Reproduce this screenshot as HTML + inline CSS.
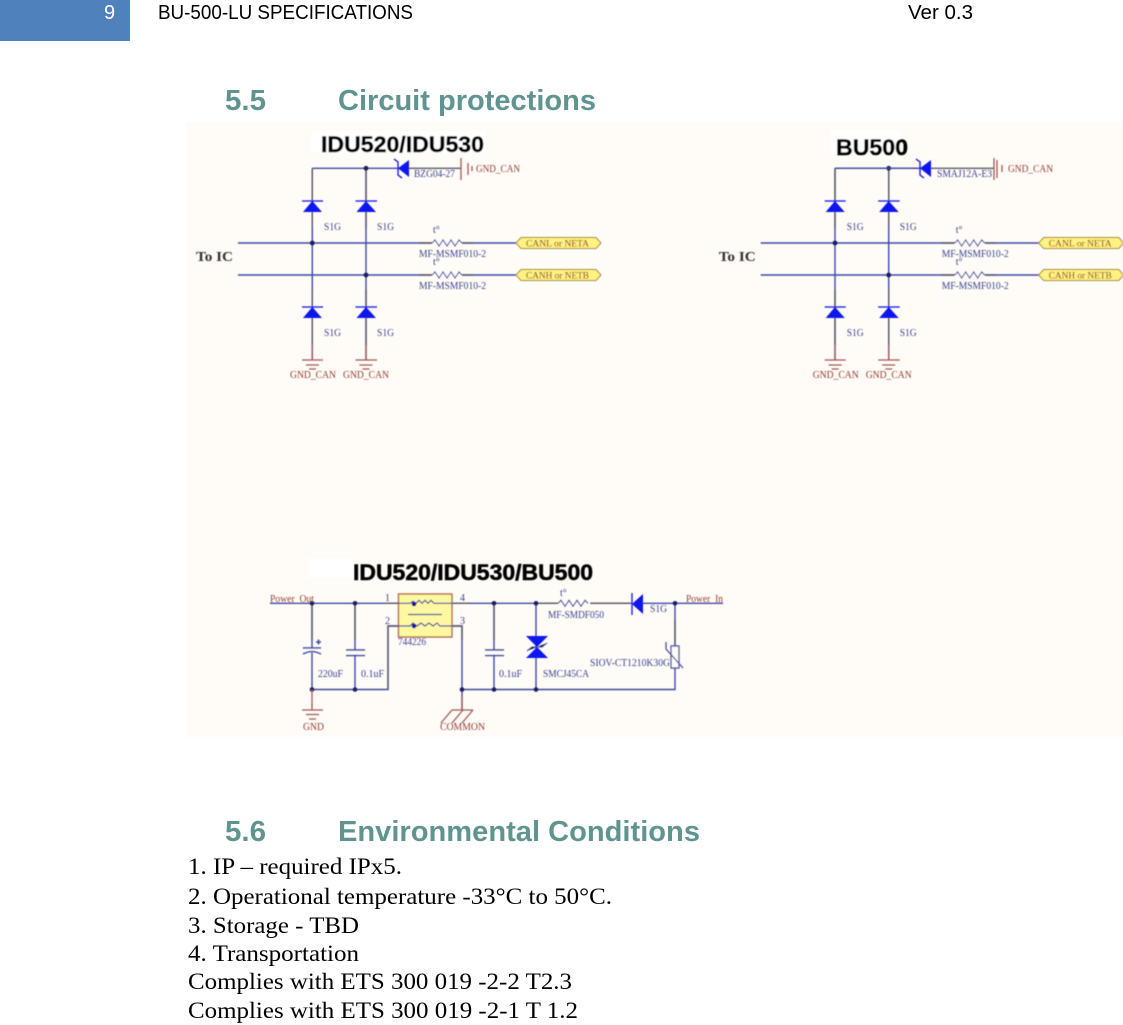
<!DOCTYPE html>
<html><head><meta charset="utf-8"><style>
html,body{margin:0;padding:0;background:#fff;width:1123px;height:1025px;overflow:hidden}
svg{display:block}
.l{font-family:"Liberation Serif",serif;font-size:10px;fill:#3a4390}
.r{font-family:"Liberation Serif",serif;font-size:10px;fill:#93403a}
.n{font-family:"Liberation Serif",serif;font-size:9.5px;fill:#7a2a18}
.t{font-family:"Liberation Sans",sans-serif;font-weight:bold;font-size:22px;fill:#000;stroke:#000;stroke-width:.5}
.ic{font-family:"Liberation Serif",serif;font-weight:bold;font-size:14px;fill:#333}
.h{font-family:"Liberation Sans",sans-serif;font-weight:bold;font-size:29px;fill:#5f9490}
.b{font-family:"Liberation Serif",serif;font-size:23.5px;fill:#000}
.c{font-family:"Liberation Sans",sans-serif;font-size:20px;fill:#000}
.w{stroke:#3d4aa6;stroke-width:1.4;fill:none}
.g{stroke:#5c5c68;stroke-width:1.4;fill:none}
.e{stroke:#a05a55;stroke-width:1.3;fill:none}
</style></head><body>
<svg width="1123" height="1025" viewBox="0 0 1123 1025" xmlns="http://www.w3.org/2000/svg">
<defs>
<filter id="bl" x="-5%" y="-5%" width="110%" height="110%"><feGaussianBlur stdDeviation="0.5"/></filter>
<g id="can">
  <path class="w" d="M312.3 168.3H398M312.3 168.3V360M366 168.3V360M238 243H516M238 275H516"/>
  <path class="g" d="M312.3 168.3V201M366 168.3V201M312.3 212V228M366 212V228M312.3 290V307M366 290V307M312.3 318V345M366 318V345M419 243H432M462 243H473M419 275H432M462 275H473"/>
  <path fill="#0a14f0" d="M303 212L312.3 201L322 212ZM356.5 212L366 201L376 212ZM303 318L312.3 307L322 318ZM356.5 318L366 307L376 318Z"/>
  <path stroke="#0a14f0" stroke-width="1.2" d="M302 201H323M355.5 201H377M302 307H323M355.5 307H377"/>
  <circle cx="366" cy="168.3" r="2.4" fill="#1a1a60"/><circle cx="312.3" cy="243" r="2.4" fill="#1a1a60"/><circle cx="366" cy="275" r="2.4" fill="#1a1a60"/>
  <path fill="#fffbf6" d="M432 240h30v6h-30zM432 272h30v6h-30z"/>
  <path stroke="#3d4aa6" stroke-width="1.1" fill="none" d="M432 243l3-3 4 6 4-6 4 6 4-6 4 6 4-6 3 3M432 275l3-3 4 6 4-6 4 6 4-6 4 6 4-6 3 3"/>
  <path class="e" d="M312.3 345V360M366 345V360M302 360H323M355.5 360H377M306 365H319M359.5 365H372.5M309 369H316M362.5 369H369.5"/>
  <g fill="#fff280" stroke="#a8864a" stroke-width="1"><path d="M516 243l5-5.500h75l5 5.500-5 5.500h-75z"/><path d="M516 275l5-5.500h75l5 5.500-5 5.500h-75z"/></g>
  <text class="n" x="526" y="246.500" textLength="63" lengthAdjust="spacingAndGlyphs">CANL or NETA</text>
  <text class="n" x="526" y="278.500" textLength="63" lengthAdjust="spacingAndGlyphs">CANH or NETB</text>
  <text class="l" x="324" y="230" textLength="17" lengthAdjust="spacingAndGlyphs">S1G</text>
  <text class="l" x="377" y="230" textLength="17" lengthAdjust="spacingAndGlyphs">S1G</text>
  <text class="l" x="324" y="336" textLength="17" lengthAdjust="spacingAndGlyphs">S1G</text>
  <text class="l" x="377" y="336" textLength="17" lengthAdjust="spacingAndGlyphs">S1G</text>
  <text class="l" x="419" y="257" textLength="67" lengthAdjust="spacingAndGlyphs">MF-MSMF010-2</text>
  <text class="l" x="419" y="289" textLength="67" lengthAdjust="spacingAndGlyphs">MF-MSMF010-2</text>
  <text class="l" x="433" y="233" font-size="11">t°</text>
  <text class="l" x="433" y="265" font-size="11">t°</text>
  <text class="ic" x="196" y="261" textLength="37" lengthAdjust="spacingAndGlyphs">To IC</text>
  <text class="r" x="290" y="378" textLength="46" lengthAdjust="spacingAndGlyphs">GND_CAN</text>
  <text class="r" x="343" y="378" textLength="46" lengthAdjust="spacingAndGlyphs">GND_CAN</text>
</g>
</defs>

<rect x="0" y="0" width="130" height="41" fill="#4f81bd"/>
<text class="c" x="104" y="19" style="fill:#fff">9</text>
<text class="c" x="158" y="19" textLength="255" lengthAdjust="spacingAndGlyphs">BU-500-LU SPECIFICATIONS</text>
<text class="c" x="908" y="19" textLength="65" lengthAdjust="spacingAndGlyphs">Ver 0.3</text>

<text class="h" x="225" y="110" textLength="41" lengthAdjust="spacingAndGlyphs">5.5</text>
<text class="h" x="338" y="110" textLength="258" lengthAdjust="spacingAndGlyphs">Circuit protections</text>

<rect x="186" y="122" width="937" height="615" fill="#fffbf6"/>
<g filter="url(#bl)">
  <rect x="311" y="131" width="175" height="22" fill="#fff"/>
  <rect x="830" y="130" width="70" height="24" fill="#fff"/>
  <rect x="307" y="558" width="46" height="20" fill="#fff"/>
  <text class="t" x="321" y="152" textLength="163" lengthAdjust="spacingAndGlyphs">IDU520/IDU530</text>
  <text class="t" x="836" y="155" textLength="72" lengthAdjust="spacingAndGlyphs">BU500</text>
  <text class="t" x="353" y="580" textLength="240" lengthAdjust="spacingAndGlyphs">IDU520/IDU530/BU500</text>

  <use href="#can"/>
  <use href="#can" transform="translate(522.700 0)"/>

  <!-- left TVS -->
  <path class="g" d="M409 168.300H461"/>
  <path fill="#0a14f0" d="M398 168.300L409 160V177Z"/>
  <path stroke="#0a14f0" stroke-width="1.3" fill="none" d="M394 159L398 162V175L402 178"/>
  <path stroke="#a05a55" stroke-width="1.3" d="M461 158V180M468 163V175M472 166V171"/>
  <text class="l" x="414" y="177" textLength="41" lengthAdjust="spacingAndGlyphs">BZG04-27</text>
  <text class="r" x="476" y="172" textLength="44" lengthAdjust="spacingAndGlyphs">GND_CAN</text>

  <!-- right TVS -->
  <path class="w" d="M835 168.300H920"/>
  <path class="g" d="M931 168.300H994"/>
  <path fill="#0a14f0" d="M920 168.300L931 160V177Z"/>
  <path stroke="#0a14f0" stroke-width="1.3" fill="none" d="M916 159L920 162V175L924 178"/>
  <path stroke="#a05a55" stroke-width="1.3" d="M994 158V180M997 160V178M1002 165V172"/>
  <text class="l" x="937" y="177" textLength="55" lengthAdjust="spacingAndGlyphs">SMAJ12A-E3</text>
  <text class="r" x="1008" y="172" textLength="45" lengthAdjust="spacingAndGlyphs">GND_CAN</text>

  <!-- power circuit -->
  <path class="w" d="M270 603.300H398M452 603.300H632M643 603.300H723M312 603.300V689.500M355 603.300V689.500M312 689.500H388V626H398M452 626H462V710M462 689.500H675V603.300M494 603.300V689.500M536 603.300V689.500"/>
  <path class="g" d="M388 689.500V626H398M452 626H462V640M312 603.300V640M355 603.300V640M494 603.300V640M675 620V646M538 603.300H558M590 603.300H632M385 603.300H398M452 603.300H470"/>
  <rect x="398.500" y="594" width="53.500" height="43" fill="#fff8a0" stroke="#b06a50" stroke-width="1.400"/>
  <path stroke="#3d4aa6" stroke-width="1.200" fill="none" d="M398 603.300H410l3-2 3 2 3-3 3 3 3-3 3 3 3-3 3 3H452M398 626H410l3-3 4 3 4-3 4 3 4-3 4 3 4-3 3 3H452M408 614.500H442"/>
  <circle cx="414" cy="604" r="2.300" fill="#0a14a0"/><circle cx="414" cy="626" r="2.300" fill="#0a14a0"/>
  <g fill="#1a1a60">
    <circle cx="312" cy="603.300" r="2.300"/><circle cx="355" cy="603.300" r="2.300"/><circle cx="494" cy="603.300" r="2.300"/><circle cx="536" cy="603.300" r="2.300"/><circle cx="675" cy="603.300" r="2.300"/>
    <circle cx="312" cy="689.500" r="2.300"/><circle cx="355" cy="689.500" r="2.300"/><circle cx="462" cy="689.500" r="2.300"/><circle cx="494" cy="689.500" r="2.300"/><circle cx="536" cy="689.500" r="2.300"/>
  </g>
  <!-- caps -->
  <path fill="#fffbf6" d="M305 648.500h15v4h-15zM346 650.500h19v4h-19zM485 650.500h19v4h-19zM558 600h32v7h-32zM670 646h10v22h-10z"/>
  <path stroke="#3d4aa6" stroke-width="1.500" fill="none" d="M303 648H321M303 654Q312 649 321 654M346 650H365M346 655.500H365M485 650H504M485 655.500H504M316 642H321M318.500 639.500V644.500"/>
  <!-- resistor -->
  <path stroke="#3d4aa6" stroke-width="1.200" fill="none" d="M558 603.300l3-3 4 6 4-6 4 6 4-6 4 6 4-6 3 3"/>
  <!-- TVS bidirectional -->
  <path fill="#0a14f0" d="M526 636H548L537 647ZM526 658H548L537 647Z"/>
  <path stroke="#3d4aa6" stroke-width="1.100" d="M527 651L532 647H542L547 643"/>
  <!-- diode -->
  <path fill="#0a14f0" d="M632 604L643 594V614Z"/>
  <path stroke="#0a14f0" stroke-width="1.300" d="M632 593V615"/>
  <!-- varistor -->
  <rect x="671" y="646" width="8" height="22" fill="#fffbf6" stroke="#3d4aa6" stroke-width="1.300"/>
  <path stroke="#3d4aa6" stroke-width="1.200" fill="none" d="M666 642V649L683 668"/>
  <!-- grounds -->
  <path class="e" d="M312 689.500V710M302 710H323M306 714.500H319M309 719H316M462 696V710"/>
  <path stroke="#a05a55" stroke-width="1.300" fill="none" d="M452 710H473M452 710L441 723M463 710L452 723M473 710L462 723"/>
  <text class="r" x="270" y="602" textLength="44" lengthAdjust="spacingAndGlyphs">Power_Out</text>
  <text class="r" x="686" y="602" textLength="37" lengthAdjust="spacingAndGlyphs">Power_In</text>
  <text class="r" x="303" y="730" textLength="21" lengthAdjust="spacingAndGlyphs">GND</text>
  <text class="r" x="440" y="730" textLength="45" lengthAdjust="spacingAndGlyphs">COMMON</text>
  <text class="l" x="385" y="601">1</text><text class="l" x="460" y="601">4</text><text class="l" x="385" y="624">2</text><text class="l" x="460" y="624">3</text>
  <text class="l" x="398" y="645" textLength="28" lengthAdjust="spacingAndGlyphs">744226</text>
  <text class="l" x="318" y="677" textLength="25" lengthAdjust="spacingAndGlyphs">220uF</text>
  <text class="l" x="361" y="677" textLength="23" lengthAdjust="spacingAndGlyphs">0.1uF</text>
  <text class="l" x="499" y="677" textLength="23" lengthAdjust="spacingAndGlyphs">0.1uF</text>
  <text class="l" x="543" y="677" textLength="46" lengthAdjust="spacingAndGlyphs">SMCJ45CA</text>
  <text class="l" x="590" y="666" textLength="80" lengthAdjust="spacingAndGlyphs">SIOV-CT1210K30G</text>
  <text class="l" x="548" y="618" textLength="56" lengthAdjust="spacingAndGlyphs">MF-SMDF050</text>
  <text class="l" x="560" y="596" font-size="11">t°</text>
  <text class="l" x="650" y="612" textLength="17" lengthAdjust="spacingAndGlyphs">S1G</text>
</g>

<text class="h" x="225" y="841" textLength="41" lengthAdjust="spacingAndGlyphs">5.6</text>
<text class="h" x="338" y="841" textLength="362" lengthAdjust="spacingAndGlyphs">Environmental Conditions</text>

<text class="b" x="188" y="874" textLength="214" lengthAdjust="spacingAndGlyphs">1. IP – required IPx5.</text>
<text class="b" x="188" y="904" textLength="424" lengthAdjust="spacingAndGlyphs">2. Operational temperature -33°C to 50°C.</text>
<text class="b" x="188" y="933" textLength="171" lengthAdjust="spacingAndGlyphs">3. Storage - TBD</text>
<text class="b" x="188" y="961" textLength="171" lengthAdjust="spacingAndGlyphs">4. Transportation</text>
<text class="b" x="188" y="989" textLength="384" lengthAdjust="spacingAndGlyphs">Complies with ETS 300 019 -2-2 T2.3</text>
<text class="b" x="188" y="1018" textLength="390" lengthAdjust="spacingAndGlyphs">Complies with ETS 300 019 -2-1 T 1.2</text>
</svg>
</body></html>
